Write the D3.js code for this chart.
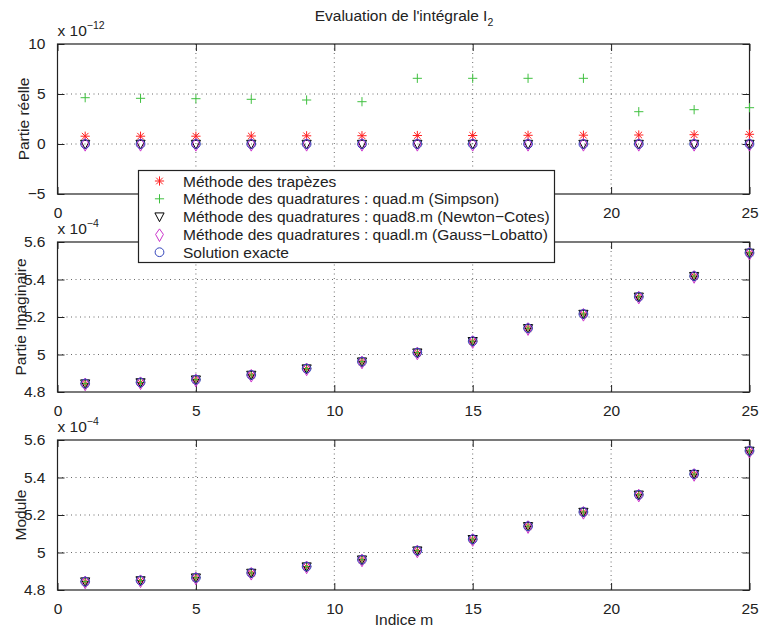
<!DOCTYPE html>
<html><head><meta charset="utf-8">
<script src="https://cdn.jsdelivr.net/npm/d3@7"></script>
<style>body{margin:0;background:#fff}svg{display:block}text{font-family:"Liberation Sans",Arial,sans-serif;fill:#222}</style>
</head><body><div id="chart"></div>
<script>
// ---------- data ----------
const indices = [1,3,5,7,9,11,13,15,17,19,21,23,25];
// Real part (x 1e-12)
const reTrapezes = [0.78,0.78,0.78,0.8,0.82,0.83,0.85,0.85,0.87,0.88,0.9,0.93,0.97];
const reSimpson  = [4.63,4.57,4.53,4.47,4.4,4.23,6.57,6.57,6.57,6.57,3.23,3.43,3.63];
const reQuad8    = [0,0,0,0,0,0,0,0,0,0,0,0,0];
const reQuadl    = [0,0,0,0,0,0,0,0,0,0,0,0,0];
const reExact    = [0,0,0,0,0,0,0,0,0,0,0,0,0];
// Imaginary part (x 1e-4)
const imExact    = [4.845,4.851,4.866,4.891,4.925,4.962,5.010,5.071,5.140,5.216,5.308,5.418,5.542];
const imTrapezes = imExact.slice(), imSimpson = imExact.slice(), imQuad8 = imExact.slice(), imQuadl = imExact.slice();
// Modulus (x 1e-4)
const modExact   = [4.845,4.851,4.866,4.891,4.925,4.962,5.010,5.071,5.140,5.216,5.308,5.418,5.542];
const modTrapezes = modExact.slice(), modSimpson = modExact.slice(), modQuad8 = modExact.slice(), modQuadl = modExact.slice();

const xTicks = [0,5,10,15,20,25];
const yTicksRe = [-5,0,5,10];
const yTickLabelsRe = ["−5","0","5","10"];
const yTicksIm = [4.8,5,5.2,5.4,5.6];
const yTickLabelsIm = ["4.8","5","5.2","5.4","5.6"];

const seriesNames = ["Méthode des trapèzes","Méthode des quadratures : quad.m (Simpson)","Méthode des quadratures : quad8.m (Newton−Cotes)","Méthode des quadratures : quadl.m (Gauss−Lobatto)","Solution exacte"];
const seriesKeys = ["star","plus","tri","diamond","circle"];
const seriesColors = ["#ff2020","#40c040","#000000","#cc33cc","#3344bb"];

// ---------- drawing ----------
const W=760,H=630, FS=15.5;
const svg = d3.select("#chart").append("svg").attr("width",W).attr("height",H);
svg.append("rect").attr("width",W).attr("height",H).attr("fill","#fff");

const L=57.5, R=749.5;
const x = d3.scaleLinear().domain([0,25]).range([L,R]);
const legendBox = {x:138.5, y:170.5, w:416, h:92};

function marker(g, type, cx, cy, color){
  const s=4.6;
  if(type==="star"){
    const p=`M${cx-s},${cy}L${cx+s},${cy}M${cx},${cy-s}L${cx},${cy+s}M${cx-s*0.72},${cy-s*0.72}L${cx+s*0.72},${cy+s*0.72}M${cx-s*0.72},${cy+s*0.72}L${cx+s*0.72},${cy-s*0.72}`;
    g.append("path").attr("d",p).attr("stroke",color).attr("stroke-width",1).attr("fill","none");
  } else if(type==="plus"){
    g.append("path").attr("d",`M${cx-s},${cy}L${cx+s},${cy}M${cx},${cy-s}L${cx},${cy+s}`).attr("stroke",color).attr("stroke-width",1).attr("fill","none");
  } else if(type==="tri"){
    g.append("path").attr("d",`M${cx-s},${cy-s*0.8}L${cx+s},${cy-s*0.8}L${cx},${cy+s*1.1}Z`).attr("stroke",color).attr("stroke-width",1).attr("fill","none");
  } else if(type==="diamond"){
    g.append("path").attr("d",`M${cx},${cy-s*1.2}L${cx+s*0.85},${cy}L${cx},${cy+s*1.55}L${cx-s*0.85},${cy}Z`).attr("stroke",color).attr("stroke-width",1).attr("fill","none");
  } else {
    g.append("circle").attr("cx",cx).attr("cy",cy).attr("r",s*0.95).attr("stroke",color).attr("stroke-width",1).attr("fill","none");
  }
}

function panel(top, bottom, domain, yTicks, yLabels, seriesList, ylabel, expo, hideUnderLegend, ylabelX){
  const y = d3.scaleLinear().domain(domain).range([bottom, top]);
  const g = svg.append("g");
  // grid
  const grid = g.append("g").attr("stroke","#444").attr("stroke-width",0.8).attr("stroke-dasharray","1,3.5");
  xTicks.slice(1,-1).forEach(t=>grid.append("line").attr("x1",x(t)).attr("x2",x(t)).attr("y1",top).attr("y2",bottom));
  yTicks.slice(1,-1).forEach(t=>grid.append("line").attr("x1",L).attr("x2",R).attr("y1",y(t)).attr("y2",y(t)));
  // axes (ticks inside)
  const tl=7;
  const xt = hideUnderLegend ? xTicks.filter(t=>x(t)<legendBox.x-8 || x(t)>legendBox.x+legendBox.w+8) : xTicks;
  const ax = g.append("g").attr("transform",`translate(0,${bottom})`).call(d3.axisBottom(x).tickValues(xt).tickSize(-tl).tickPadding(tl+6).tickFormat(d3.format("d")));
  const axT = g.append("g").attr("transform",`translate(0,${top})`).call(d3.axisTop(x).tickValues(xTicks).tickSize(-tl).tickFormat(""));
  const ay = g.append("g").attr("transform",`translate(${L},0)`).call(d3.axisLeft(y).tickValues(yTicks).tickSize(-tl).tickPadding(tl+5).tickFormat((d,i)=>yLabels[i]));
  const ayR = g.append("g").attr("transform",`translate(${R},0)`).call(d3.axisRight(y).tickValues(yTicks).tickSize(-tl).tickFormat(""));
  [ax,axT,ay,ayR].forEach(a=>{a.select(".domain").remove();a.selectAll("line").attr("stroke","#222");a.selectAll("text").attr("font-size",FS).attr("fill","#222").attr("font-family","Liberation Sans, Arial, sans-serif");});
  ax.selectAll("text").attr("dy","0.71em");
  g.append("rect").attr("x",L).attr("y",top).attr("width",R-L).attr("height",bottom-top).attr("fill","none").attr("stroke","#222").attr("stroke-width",1.2);
  // data
  const mg = g.append("g");
  seriesList.forEach((vals,si)=>{
    indices.forEach((m,i)=>marker(mg, seriesKeys[si], x(m), y(vals[i]), seriesColors[si]));
  });
  // y label
  g.append("text").attr("transform",`translate(${ylabelX},${(top+bottom)/2}) rotate(-90)`).attr("text-anchor","middle").attr("font-size",FS).text(ylabel);
  // exponent
  const e = g.append("text").attr("x",L).attr("y",top-8).attr("font-size",FS);
  e.append("tspan").text("x 10");
  e.append("tspan").attr("font-size",10.5).attr("dy",-7).text(expo);
  return g;
}

panel(44,194,[-5,10],yTicksRe,yTickLabelsRe,[reTrapezes,reSimpson,reQuad8,reQuadl,reExact],"Partie réelle","−12",true,29);
panel(242,392,[4.8,5.6],yTicksIm,yTickLabelsIm,[imTrapezes,imSimpson,imQuad8,imQuadl,imExact],"Partie Imaginaire","−4",false,25.5);
panel(440,590,[4.8,5.6],yTicksIm,yTickLabelsIm,[modTrapezes,modSimpson,modQuad8,modQuadl,modExact],"Module","−4",false,25.5);

// title
const t = svg.append("text").attr("x",404).attr("y",21).attr("text-anchor","middle").attr("font-size",FS);
t.append("tspan").text("Evaluation de l'intégrale I");
t.append("tspan").attr("font-size",10.5).attr("dy",5).text("2");
// x label
svg.append("text").attr("x",404).attr("y",625).attr("text-anchor","middle").attr("font-size",FS).text("Indice m");

// legend
const lg = svg.append("g");
lg.append("rect").attr("x",legendBox.x).attr("y",legendBox.y).attr("width",legendBox.w).attr("height",legendBox.h).attr("fill","#fff").attr("stroke","#222").attr("stroke-width",1.2);
seriesNames.forEach((n,i)=>{
  const cy = 181 + i*17.8;
  marker(lg, seriesKeys[i], 159.5, cy, seriesColors[i]);
  lg.append("text").attr("x",183).attr("y",cy+5.5).attr("font-size",FS).text(n);
});
</script></body></html>
